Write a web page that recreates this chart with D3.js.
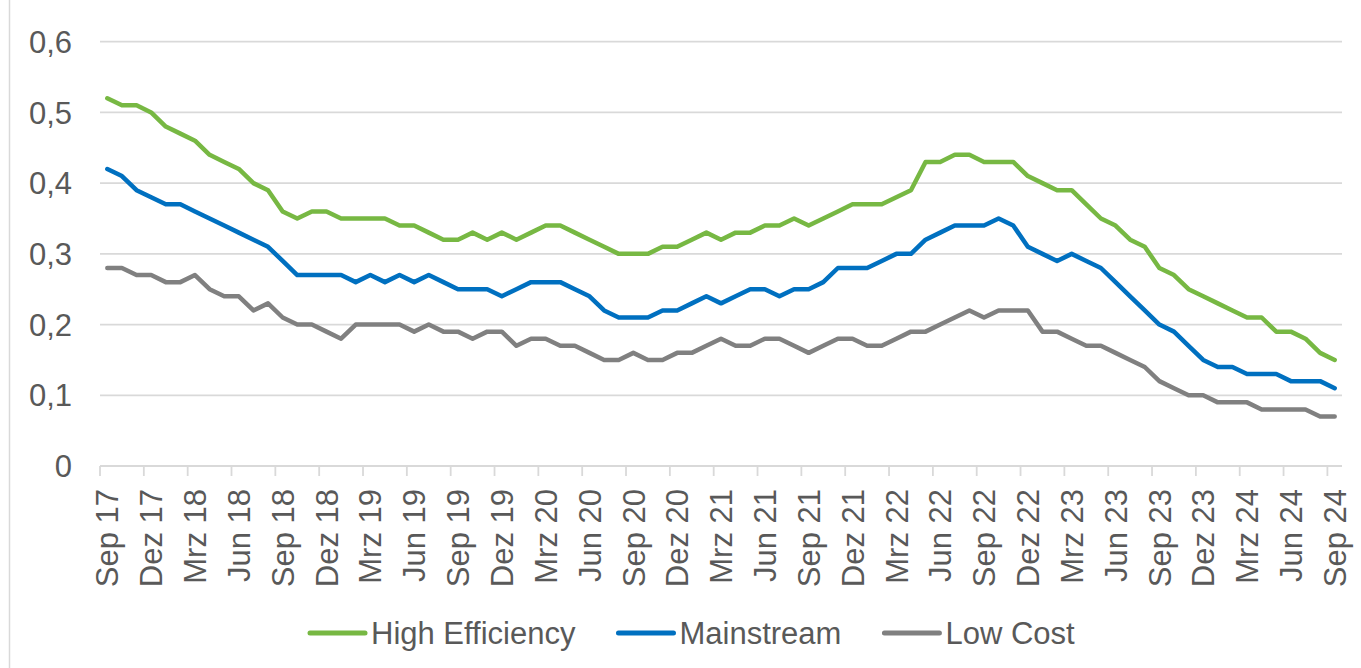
<!DOCTYPE html>
<html>
<head>
<meta charset="utf-8">
<script src="https://cdn.jsdelivr.net/npm/d3@7"></script>
<style>
  body { margin: 0; background: #fff; }
  svg { display: block; }
  text { font-family: "Liberation Sans", Arial, sans-serif; fill: #595959; }
</style>
</head>
<body>
<script>
// monthly categories Sep 17 .. Sep 24 (German month abbreviations)
var MONTHS = ["Jan","Feb","Mrz","Apr","Mai","Jun","Jul","Aug","Sep","Okt","Nov","Dez"];
var categories = [];
for (var yr = 17, m = 8; yr < 24 || (yr == 24 && m <= 8); ) {
  categories.push(MONTHS[m] + " " + yr);
  m++;
  if (m == 12) { m = 0; yr++; }
}

var highEfficiency = [0.52,0.51,0.51,0.50,0.48,0.47,0.46,0.44,0.43,0.42,0.40,0.39,0.36,0.35,0.36,0.36,0.35,0.35,0.35,0.35,
  0.34,0.34,0.33,0.32,0.32,0.33,0.32,0.33,0.32,0.33,0.34,0.34,0.33,0.32,0.31,0.30,0.30,0.30,0.31,0.31,
  0.32,0.33,0.32,0.33,0.33,0.34,0.34,0.35,0.34,0.35,0.36,0.37,0.37,0.37,0.38,0.39,0.43,0.43,0.44,0.44,
  0.43,0.43,0.43,0.41,0.40,0.39,0.39,0.37,0.35,0.34,0.32,0.31,0.28,0.27,0.25,0.24,0.23,0.22,0.21,0.21,
  0.19,0.19,0.18,0.16,0.15];
var mainstream = [0.42,0.41,0.39,0.38,0.37,0.37,0.36,0.35,0.34,0.33,0.32,0.31,0.29,0.27,0.27,0.27,0.27,0.26,0.27,0.26,
  0.27,0.26,0.27,0.26,0.25,0.25,0.25,0.24,0.25,0.26,0.26,0.26,0.25,0.24,0.22,0.21,0.21,0.21,0.22,0.22,
  0.23,0.24,0.23,0.24,0.25,0.25,0.24,0.25,0.25,0.26,0.28,0.28,0.28,0.29,0.30,0.30,0.32,0.33,0.34,0.34,
  0.34,0.35,0.34,0.31,0.30,0.29,0.30,0.29,0.28,0.26,0.24,0.22,0.20,0.19,0.17,0.15,0.14,0.14,0.13,0.13,
  0.13,0.12,0.12,0.12,0.11];
var lowCost = [0.28,0.28,0.27,0.27,0.26,0.26,0.27,0.25,0.24,0.24,0.22,0.23,0.21,0.20,0.20,0.19,0.18,0.20,0.20,0.20,
  0.20,0.19,0.20,0.19,0.19,0.18,0.19,0.19,0.17,0.18,0.18,0.17,0.17,0.16,0.15,0.15,0.16,0.15,0.15,0.16,
  0.16,0.17,0.18,0.17,0.17,0.18,0.18,0.17,0.16,0.17,0.18,0.18,0.17,0.17,0.18,0.19,0.19,0.20,0.21,0.22,
  0.21,0.22,0.22,0.22,0.19,0.19,0.18,0.17,0.17,0.16,0.15,0.14,0.12,0.11,0.10,0.10,0.09,0.09,0.09,0.08,
  0.08,0.08,0.08,0.07,0.07];

var seriesNames = ["High Efficiency", "Mainstream", "Low Cost"];
var seriesColors = ["#77b843", "#0070c0", "#808080"];
var yTicks = [0, 0.1, 0.2, 0.3, 0.4, 0.5, 0.6];

var width = 1361, height = 668;
var svg = d3.select("body").append("svg")
  .attr("width", width)
  .attr("height", height);

// chart border (only left edge is in frame)
svg.append("rect")
  .attr("x", 9.5).attr("y", -5)
  .attr("width", 1400).attr("height", 700)
  .attr("fill", "none").attr("stroke", "#d9d9d9").attr("stroke-width", 1.5);

var x = d3.scaleBand().domain(categories).range([100, 1342]).padding(0);
var y = d3.scaleLinear().domain([0, 0.6]).range([466, 41.7]);
var cx = function (c) { return x(c) + x.bandwidth() / 2; };

var de = d3.formatLocale({decimal: ",", thousands: ".", grouping: [3], currency: ["", " €"]});
var fmt = de.format(".1f");

// gridlines
svg.append("g").selectAll("line")
  .data(yTicks)
  .enter().append("line")
  .attr("x1", 100).attr("x2", 1342)
  .attr("y1", function (d) { return y(d); })
  .attr("y2", function (d) { return y(d); })
  .attr("stroke", "#d9d9d9").attr("stroke-width", 1.8);

// y labels
svg.append("g").selectAll("text")
  .data(yTicks)
  .enter().append("text")
  .attr("x", 72)
  .attr("y", function (d) { return y(d); })
  .attr("dy", "0.36em")
  .attr("text-anchor", "end")
  .style("font-size", "31px")
  .text(function (d) { return d === 0 ? "0" : fmt(d); });

// x ticks at band boundaries, every 3rd month
var tickCats = categories.filter(function (c, i) { return i % 3 == 0; });
svg.append("g").selectAll("line")
  .data(tickCats)
  .enter().append("line")
  .attr("x1", function (c) { return x(c); })
  .attr("x2", function (c) { return x(c); })
  .attr("y1", 466).attr("y2", 476)
  .attr("stroke", "#d9d9d9").attr("stroke-width", 1.8);

svg.append("g").selectAll("text")
  .data(tickCats)
  .enter().append("text")
  .attr("transform", function (c) { return "translate(" + cx(c) + ",489) rotate(-90)"; })
  .attr("dy", "0.36em")
  .attr("text-anchor", "end")
  .style("font-size", "31px")
  .text(function (c) { return c; });

// lines
var seriesData = [highEfficiency, mainstream, lowCost];
var line = d3.line()
  .x(function (d, i) { return cx(categories[i]); })
  .y(function (d) { return y(d); });

svg.append("g").selectAll("path")
  .data(seriesData)
  .enter().append("path")
  .attr("d", line)
  .attr("fill", "none")
  .attr("stroke", function (d, i) { return seriesColors[i]; })
  .attr("stroke-width", 4.5)
  .attr("stroke-linejoin", "round")
  .attr("stroke-linecap", "round");

// legend
var legend = svg.append("g");
var lx = 310;
seriesNames.forEach(function (name, i) {
  legend.append("line")
    .attr("x1", lx).attr("x2", lx + 55)
    .attr("y1", 633).attr("y2", 633)
    .attr("stroke", seriesColors[i]).attr("stroke-width", 5)
    .attr("stroke-linecap", "round");
  var t = legend.append("text")
    .attr("x", lx + 61).attr("y", 643.5)
    .style("font-size", "31px")
    .text(name);
  lx = lx + 61 + t.node().getComputedTextLength() + 43;
});
</script>
</body>
</html>
